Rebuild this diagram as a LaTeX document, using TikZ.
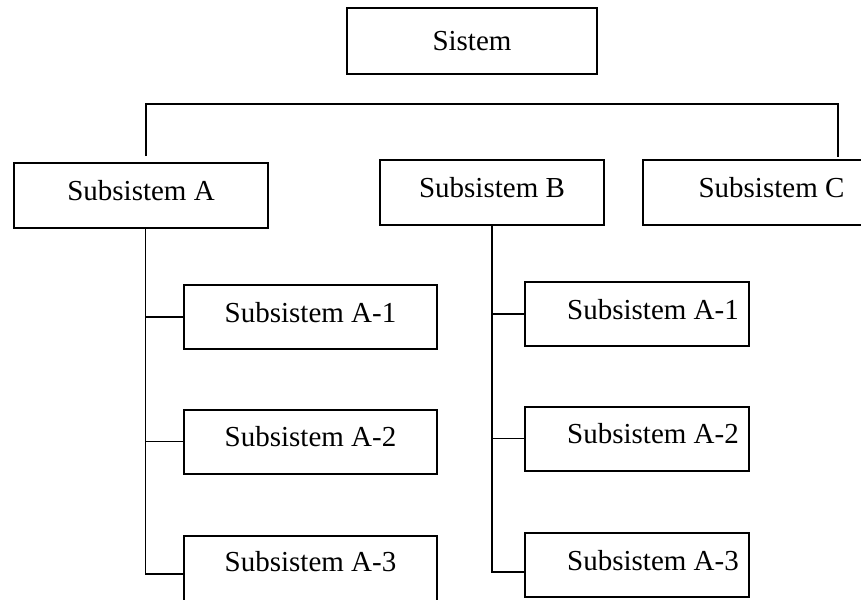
\documentclass[tikz,border=0pt]{standalone}
\usepackage{fontspec}
\setmainfont{Liberation Serif}
\usetikzlibrary{positioning}
\begin{document}
\begin{tikzpicture}[x=1pt,y=-1pt,
  box/.style={draw=black,line width=2pt,rectangle,inner sep=0pt,
    font=\fontsize{29}{34}\selectfont,minimum height=65pt},
  sub/.style={box,text depth=10pt},
  wire/.style={draw=black,line width=1.2pt}]
\useasboundingbox (0,0) rectangle (861,599);
\clip (0,0) rectangle (861,599);
\node[box,minimum width=250pt,minimum height=66pt] (S) at (472,41) {Sistem};
\node[sub,minimum width=254pt] (A) at (141,195.5) {Subsistem A};
\node[sub,minimum width=224pt] (B) at (492,192.5) {Subsistem B};
\node[sub,minimum width=257pt] (C) at (771.5,192.5) {Subsistem C};
\node[sub,minimum width=253pt,minimum height=64pt] (A1) at (310.5,317) {Subsistem A-1};
\node[sub,minimum width=253pt,minimum height=64pt] (A2) at (310.5,441.5) {Subsistem A-2};
\node[sub,minimum width=253pt,minimum height=68pt,text depth=18pt] (A3) at (310.5,570) {Subsistem A-3};
\node[sub,minimum width=224pt,minimum height=64pt] (B1) at (637,314) {\hspace*{32pt}Subsistem A-1};
\node[sub,minimum width=224pt,minimum height=64pt] (B2) at (637,438.5) {\hspace*{32pt}Subsistem A-2};
\node[sub,minimum width=224pt,minimum height=64pt] (B3) at (637,565) {\hspace*{32pt}Subsistem A-3};
% top bar
\coordinate (tl) at (146,104);
\coordinate (tr) at (838,104);
\coordinate (ta) at (146,156);
\coordinate (tc) at (838,157);
\draw[wire] (ta) -- (tl) -- (tr) -- (tc);
% A spine
\coordinate (as) at (145.5,0);
\draw[wire] (A.south -| as) -- ([yshift=-4pt]A3.west -| as) -- ([yshift=-4pt]A3.west);
\draw[wire] (A1.west -| as) -- (A1.west);
\draw[wire] (A2.west -| as) -- (A2.west);
% B spine
\draw[wire] (B.south) -- ([yshift=-7pt]B3.west -| B.south) -- ([yshift=-7pt]B3.west);
\draw[wire] (B1.west -| B.south) -- (B1.west);
\draw[wire] (B2.west -| B.south) -- (B2.west);
\end{tikzpicture}
\end{document}
